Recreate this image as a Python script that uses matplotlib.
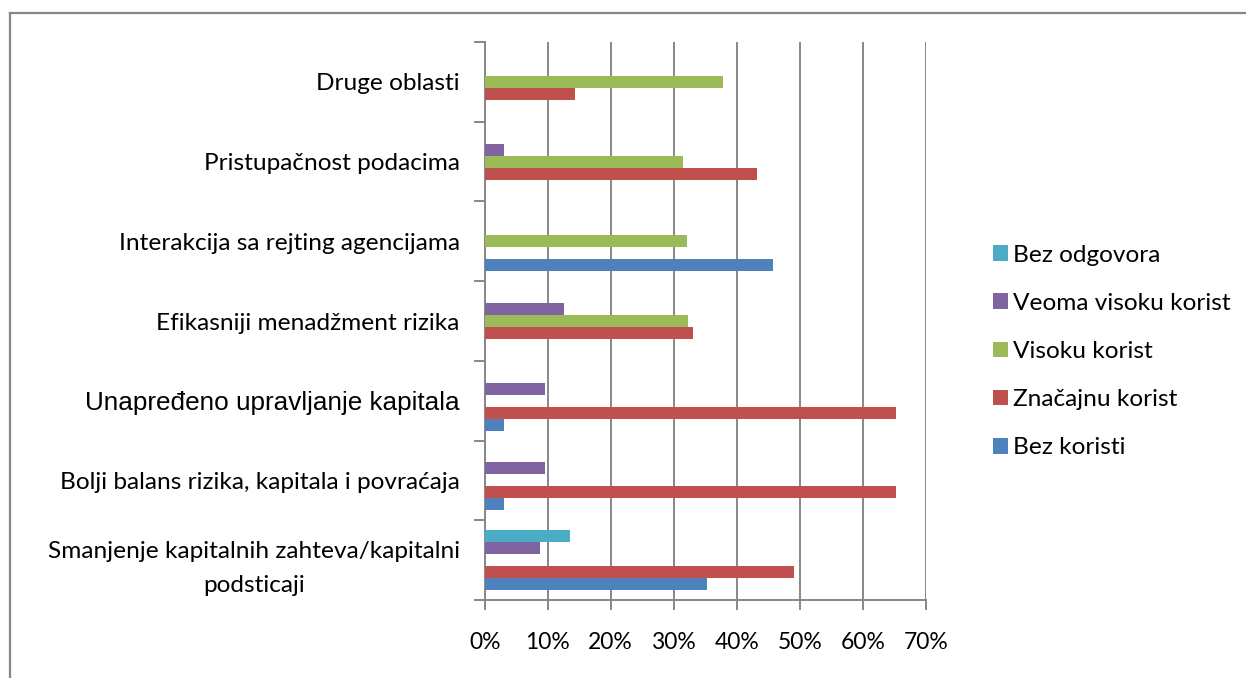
import matplotlib
matplotlib.use("Agg")
import matplotlib.pyplot as plt
from matplotlib.lines import Line2D
import numpy as np

# Benefit categories (bottom to top)
categories = [
    "Smanjenje kapitalnih zahteva/kapitalni\npodsticaji",
    "Bolji balans rizika, kapitala i povraćaja",
    "Unapređeno upravljanje kapitala",
    "Efikasniji menadžment rizika",
    "Interakcija sa rejting agencijama",
    "Pristupačnost podacima",
    "Druge oblasti",
]

# Share of responses (%) per series, same order as categories
bez_koristi = [35.3, 3.1, 3.1, 0.0, 45.8, 0.0, 0.0]
znacajnu_korist = [49.1, 65.3, 65.3, 33.0, 0.0, 43.3, 14.3]
visoku_korist = [0.0, 0.0, 0.0, 32.2, 32.1, 31.4, 37.9]
veoma_visoku_korist = [8.8, 9.5, 9.5, 12.6, 0.0, 3.1, 0.0]
bez_odgovora = [13.6, 0.0, 0.0, 0.0, 0.0, 0.0, 0.0]

series_names = ["Bez koristi", "Značajnu korist", "Visoku korist",
                "Veoma visoku korist", "Bez odgovora"]
series_values = [bez_koristi, znacajnu_korist, visoku_korist,
                 veoma_visoku_korist, bez_odgovora]
series_colors = ["#4F81BD", "#C0504D", "#9BBB59", "#8064A2", "#4BACC6"]

x_ticks = [0, 10, 20, 30, 40, 50, 60, 70]
x_tick_labels = ["0%", "10%", "20%", "30%", "40%", "50%", "60%", "70%"]

W, H = 1246, 678
fig = plt.figure(figsize=(W / 100, H / 100), dpi=100)
fig.patch.set_facecolor("white")

ax_left, ax_right, ax_top, ax_bottom = 484.7, 925.7, 42, 600
ax = fig.add_axes([ax_left / W, (H - ax_bottom) / H,
                   (ax_right - ax_left) / W, (ax_bottom - ax_top) / H])

main_font = ["Lato", "DejaVu Sans"]
grid_grey = "#878787"
label_size = 17.6

y = np.arange(len(categories))
bar_h = 0.15
offsets = [-0.30, -0.15, 0.0, 0.15, 0.30]
for name, vals, col, off in zip(series_names, series_values, series_colors, offsets):
    ax.barh(y + off, vals, height=bar_h, color=col, edgecolor="none",
            label=name, zorder=3)

ax.set_xlim(0, 70)
ax.set_ylim(-0.5, len(categories) - 0.5)

# vertical gridlines
ax.set_xticks(x_ticks)
ax.set_xticklabels(x_tick_labels, fontsize=16.5, family=main_font)
ax.xaxis.grid(True, color=grid_grey, linewidth=1.4, zorder=0)
ax.set_axisbelow(True)
ax.tick_params(axis="x", direction="out", length=7, width=1.4,
               color=grid_grey, pad=16)

# category boundaries as major ticks, labels on minor ticks
ax.set_yticks(np.arange(-0.5, len(categories), 1.0))
ax.set_yticklabels([])
ax.set_yticks(y, minor=True)
ax.set_yticklabels(categories, minor=True, fontsize=label_size,
                   family=main_font, multialignment="center")
ax.tick_params(axis="y", which="major", direction="out", length=8,
               width=1.4, color=grid_grey)
ax.tick_params(axis="y", which="minor", length=0, pad=18)
for lab in ax.get_yticklabels(minor=True):
    txt = lab.get_text()
    if txt.startswith("Unapre"):
        lab.set_family(["Liberation Sans", "DejaVu Sans"])
        lab.set_fontsize(18.8)
    if "\n" in txt:
        lab.set_linespacing(1.75)

for side in ("top", "right"):
    ax.spines[side].set_visible(False)
for side in ("left", "bottom"):
    ax.spines[side].set_color(grid_grey)
    ax.spines[side].set_linewidth(1.4)

# legend, entries top to bottom in reverse series order
handles, labels = ax.get_legend_handles_labels()
leg = fig.legend(handles[::-1], labels[::-1], loc="upper left",
                 bbox_to_anchor=(983 / W, 1 - 235 / H),
                 frameon=False, prop={"family": main_font, "size": label_size},
                 handlelength=0.62, handleheight=0.62, handletextpad=0.2,
                 labelspacing=1.11, borderaxespad=0)

# outer chart frame
fig.add_artist(Line2D([9.5 / W, 9.5 / W], [0, 1 - 13 / H],
                      transform=fig.transFigure, color=grid_grey, lw=1.6))
fig.add_artist(Line2D([9.5 / W, 1], [1 - 13 / H, 1 - 13 / H],
                      transform=fig.transFigure, color=grid_grey, lw=1.6))

fig.savefig("out.png", dpi=100, facecolor="white")
